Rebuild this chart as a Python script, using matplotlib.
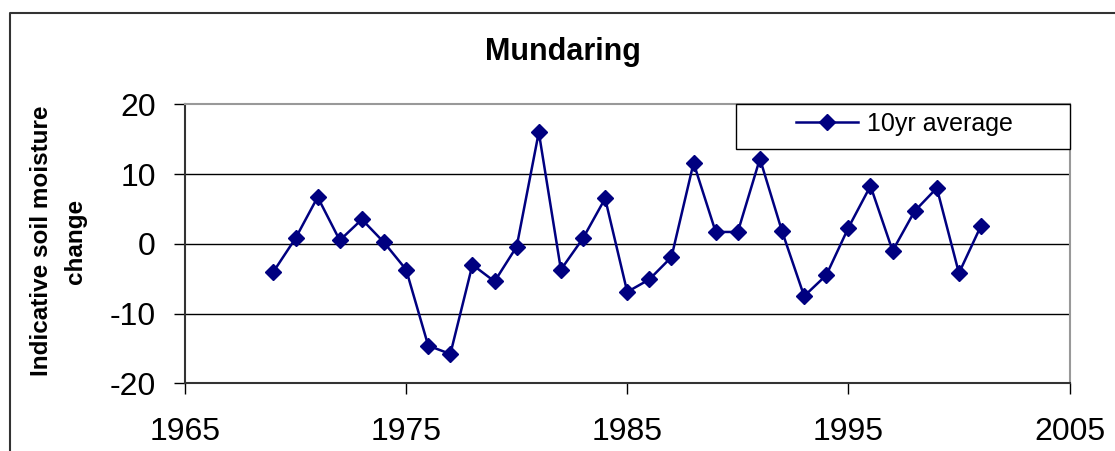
import matplotlib
matplotlib.use("Agg")
import matplotlib.pyplot as plt
from matplotlib.lines import Line2D
from matplotlib.patches import Rectangle

plt.rcParams['font.family'] = ['Liberation Sans', 'DejaVu Sans']
plt.rcParams['axes.unicode_minus'] = False

# 数据：年份与10年平均指示性土壤水分变化
years = list(range(1969, 2002))
avg10 = [-4.0, 0.8, 6.7, 0.5, 3.5, 0.2, -3.7, -14.6, -15.8, -3.0,
         -5.4, -0.4, 16.0, -3.7, 0.8, 6.5, -6.9, -5.1, -1.9, 11.6,
         1.7, 1.7, 12.2, 1.8, -7.5, -4.5, 2.3, 8.3, -1.0, 4.7,
         8.0, -4.2, 2.6]
x_ticks = [1965, 1975, 1985, 1995, 2005]
y_ticks = [-20, -10, 0, 10, 20]

navy = '#000080'

fig = plt.figure(figsize=(11.15, 4.51), dpi=100)
ax = fig.add_axes([0.1659, 0.1501, 0.7933, 0.6186])

ax.plot(years, avg10, color=navy, lw=1.8, marker='D', markersize=8,
        markerfacecolor=navy, markeredgecolor=navy, label='10yr average')

ax.set_xlim(1965, 2005)
ax.set_ylim(-20, 20)
ax.set_xticks(x_ticks)
ax.set_yticks(y_ticks)
ax.tick_params(axis='both', direction='out', length=8, width=1, labelsize=23)
ax.tick_params(axis='y', pad=13)
ax.tick_params(axis='x', pad=16)

# 网格线（只画内部的，两端留给边框）
ax.yaxis.grid(True, color='black', lw=1)
gls = ax.get_ygridlines()
gls[0].set_visible(False)
gls[-1].set_visible(False)
ax.set_axisbelow(True)

for side in ['top', 'right']:
    ax.spines[side].set_color('#999999')
    ax.spines[side].set_linewidth(1.5)
for side in ['left', 'bottom']:
    ax.spines[side].set_color('#333333')
    ax.spines[side].set_linewidth(1.5)

ax.set_ylabel('Indicative soil moisture\nchange', fontsize=17.5,
              fontweight='bold', linespacing=1.6)
ax.yaxis.set_label_coords(-0.111, 0.51)

# 图例：外框手动画，内容居中
ax.add_patch(Rectangle((0.623, 0.8387), 0.377, 0.1613, transform=ax.transAxes,
                       facecolor='white', edgecolor='black', lw=1,
                       clip_on=False, zorder=3))
leg = ax.legend(loc='center', bbox_to_anchor=(0.8135, 0.93), frameon=False,
                fontsize=18, handlelength=2.45, handletextpad=0.36,
                borderpad=0, borderaxespad=0)
leg.set_zorder(4)

fig.text(0.5045, 0.867, 'Mundaring', fontsize=22, fontweight='bold',
         ha='center', va='baseline')

# 外边框（左、上可见）
fig.add_artist(Line2D([0.009, 0.009, 1.0], [0.0, 0.9718, 0.9718],
                      transform=fig.transFigure, color='#333333', lw=1.5))

fig.savefig('out.png', dpi=100)
